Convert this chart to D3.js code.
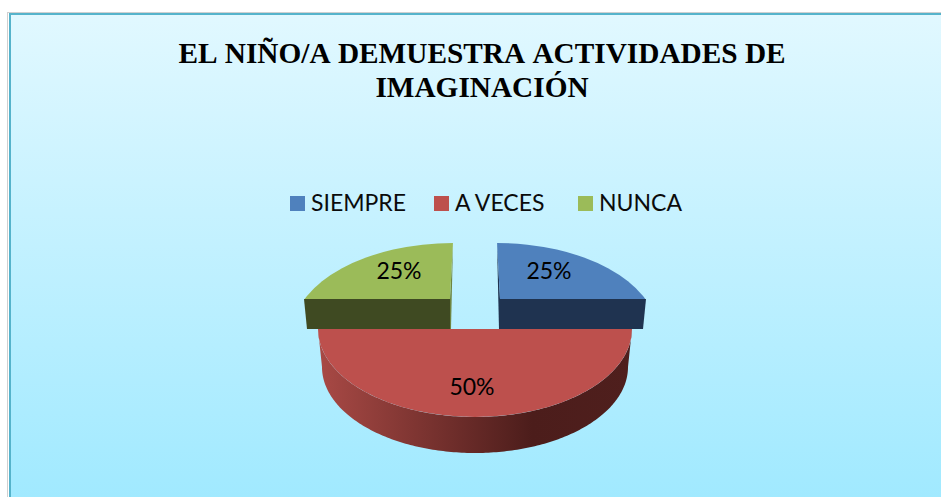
<!DOCTYPE html>
<html>
<head>
<meta charset="utf-8">
<script src="https://d3js.org/d3.v7.min.js"></script>
<style>
  html, body { margin: 0; padding: 0; background: #fff; }
  svg { display: block; }
</style>
</head>
<body>
<svg id="chart"></svg>
<script>
// data
var categories = ['SIEMPRE', 'A VECES', 'NUNCA'];
var values = [25, 50, 25];
var titleLines = ['EL NIÑO/A DEMUESTRA ACTIVIDADES DE', 'IMAGINACIÓN'];

var width = 941;
var height = 497;

var colors = d3.scaleOrdinal().domain(categories).range(['#4f81bd', '#bd504d', '#9bbb59']);
var total = d3.sum(values);

// every slice sits at its own spot because the original is an exploded 3d pie
// the two back slices are cut off by a straight edge at y=299
var sliceLayout = {
  'SIEMPRE': { cx: 501.6, cy: 329, rx: 155, ry: 86, skew: 0.0293, labelX: 549, labelY: 279, clip: 'url(#backClip)' },
  'A VECES': { cx: 475, cy: 329, rx: 157, ry: 88, skew: 0, labelX: 472, labelY: 395, clip: null },
  'NUNCA': { cx: 448.4, cy: 329, rx: 155, ry: 86, skew: -0.0293, labelX: 399, labelY: 279, clip: 'url(#backClip)' }
};

var svg = d3.select('#chart').attr('width', width).attr('height', height);
var defs = svg.append('defs');

defs.append('clipPath').attr('id', 'backClip')
  .append('rect').attr('x', 0).attr('y', 0).attr('width', width).attr('height', 299);

//// background
var bg = defs.append('linearGradient').attr('id', 'bg')
  .attr('x1', 0).attr('y1', 0).attr('x2', 0).attr('y2', 1);
bg.append('stop').attr('offset', '0%').attr('stop-color', '#e1f8ff');
bg.append('stop').attr('offset', '100%').attr('stop-color', '#9fe9ff');

svg.append('rect')
  .attr('x', 7.5).attr('y', 12.5).attr('width', width).attr('height', height)
  .attr('fill', 'none').attr('stroke', '#d0d0d0').attr('stroke-width', 1);

svg.append('rect')
  .attr('x', 10).attr('y', 14).attr('width', width).attr('height', height)
  .attr('fill', 'url(#bg)').attr('stroke', '#55b3cb').attr('stroke-width', 2);

//// title
svg.append('g').selectAll('text')
  .data(titleLines)
  .enter()
  .append('text')
    .attr('x', 482)
    .attr('y', (d, i) => 63 + i * 34)
    .attr('text-anchor', 'middle')
    .style('font-family', '"Liberation Serif", serif')
    .style('font-weight', 'bold')
    .style('font-size', '29.3px')
    .style('font-kerning', 'none')
    .text(d => d);

//// legend
var legendX = { 'SIEMPRE': 290, 'A VECES': 434, 'NUNCA': 578 };
var legend = svg.append('g').selectAll('g')
  .data(categories)
  .enter()
  .append('g')
    .attr('transform', d => `translate(${legendX[d]},196)`);

legend.append('rect')
  .attr('width', 15).attr('height', 15)
  .attr('fill', d => colors(d));

legend.append('text')
  .attr('x', 21).attr('y', 15)
  .style('font-family', 'Lato, sans-serif')
  .style('font-size', '23px')
  .attr('fill', '#0b0b0b')
  .text(d => d);

//// pie
var arcs = d3.pie().sort(null).value(d => d.value)(
  categories.map((c, i) => ({ name: c, value: values[i] }))
);
var unitArc = d3.arc().innerRadius(0).outerRadius(d => sliceLayout[d.data.name].rx);

// side of the red slice, following its rim
var redArc = arcs[1];
var redPos = sliceLayout['A VECES'];
var wallDepth = 38;
var wallAngles = d3.range(redArc.startAngle, redArc.endAngle + 0.001, Math.PI / 180);
var wall = d3.area()
  .x0(a => redPos.cx + redPos.rx * Math.sin(a))
  .y0(a => redPos.cy - redPos.ry * Math.cos(a))
  .x1(a => redPos.cx + (redPos.rx - 4) * Math.sin(a))
  .y1(a => redPos.cy + wallDepth - (redPos.ry - 2) * Math.cos(a));

var wallGrad = defs.append('linearGradient').attr('id', 'wall')
  .attr('gradientUnits', 'userSpaceOnUse')
  .attr('x1', 320).attr('y1', 0).attr('x2', 632).attr('y2', 0);
wallGrad.append('stop').attr('offset', '0%').attr('stop-color', '#a84945');
wallGrad.append('stop').attr('offset', '68%').attr('stop-color', '#4c1d1b');
wallGrad.append('stop').attr('offset', '100%').attr('stop-color', '#4f1f1d');

svg.append('path')
  .attr('d', wall(wallAngles))
  .attr('fill', 'url(#wall)');

// straight cut faces of the two back slices
var frontFaces = [
  { name: 'SIEMPRE', dark: '#1f3350', pts: [[500, 299], [646, 299], [643, 329], [500, 329]] },
  { name: 'NUNCA', dark: '#3f4a22', pts: [[450, 299], [304, 299], [307, 329], [450, 329]] }
];
svg.append('g').selectAll('path')
  .data(frontFaces)
  .enter()
  .append('path')
    .attr('d', d => d3.line()(d.pts) + 'Z')
    .attr('fill', d => d.dark);

// thin inner walls next to the gap
svg.append('path').attr('d', d3.line()([[497, 243], [500, 299], [500, 329], [499, 329]]) + 'Z').attr('fill', '#1f3350');
svg.append('path').attr('d', d3.line()([[453, 243], [450, 299], [450, 329], [451, 329]]) + 'Z').attr('fill', '#6e8540');

// top faces
svg.append('g').selectAll('g')
  .data(arcs)
  .enter()
  .append('g')
    .attr('clip-path', d => sliceLayout[d.data.name].clip)
  .append('path')
    .attr('d', unitArc)
    .attr('transform', d => {
      var p = sliceLayout[d.data.name];
      return `matrix(1,0,${p.skew},${p.ry / p.rx},${p.cx},${p.cy})`;
    })
    .attr('fill', d => colors(d.data.name));

//// percent labels
svg.append('g').selectAll('text')
  .data(arcs)
  .enter()
  .append('text')
    .attr('x', d => sliceLayout[d.data.name].labelX)
    .attr('y', d => sliceLayout[d.data.name].labelY)
    .attr('text-anchor', 'middle')
    .style('font-family', 'Lato, sans-serif')
    .style('font-size', '23px')
    .attr('fill', '#000')
    .text(d => Math.round(d.data.value / total * 100) + '%');
</script>
</body>
</html>
